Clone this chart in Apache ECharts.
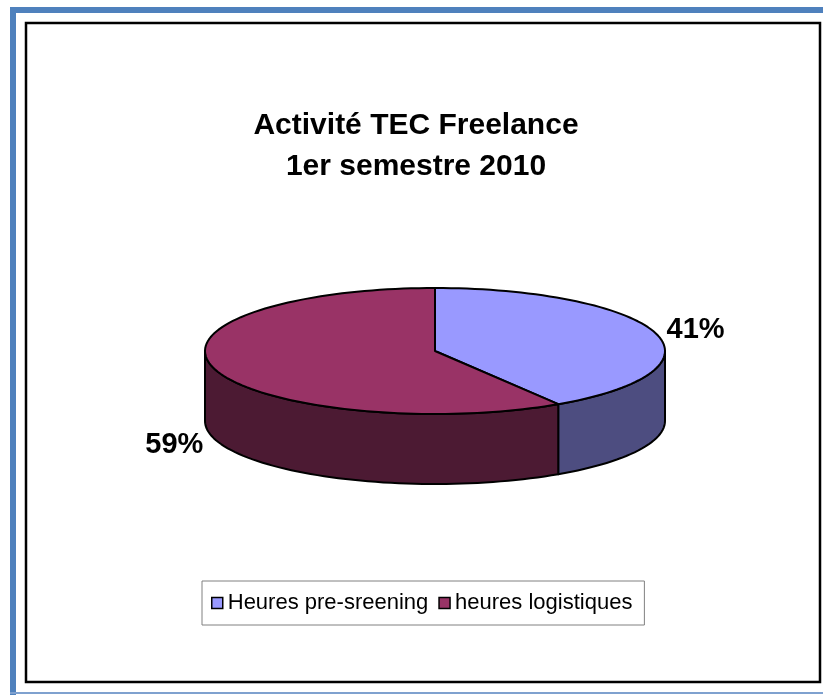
<!DOCTYPE html>
<html>
<head>
<meta charset="utf-8">
<script src="https://cdn.jsdelivr.net/npm/echarts@6/dist/echarts.min.js"></script>
<style>
  html, body { margin: 0; padding: 0; background: #fff; }
  #chart { width: 823px; height: 695px; }
</style>
</head>
<body>
<div id="chart"></div>
<script>
// données du graphique
const categories = ['Heures pre-sreening', 'heures logistiques'];
const values = [41, 59];

// couleurs (dessus / côté)
const topColors = ['#9999ff', '#993366'];
const sideColors = ['#4d4d80', '#4c1a33'];

// géométrie du camembert 3D
const cx = 435, cy = 351, rx = 230, ry = 63, depth = 70;
const fontFamily = '"Liberation Sans", Arial, sans-serif';

const total = values.reduce((a, b) => a + b, 0);
let starts = [];
let acc = 0;
values.forEach(v => { starts.push(acc); acc += v; });

function pt(deg, dy) {
  const r = deg * Math.PI / 180;
  return [cx + rx * Math.sin(r), cy - ry * Math.cos(r) + (dy || 0)];
}

function arc(a1, a2, dy) {
  const n = Math.max(2, Math.ceil(Math.abs(a2 - a1) / 2));
  let pts = [];
  for (let i = 0; i <= n; i++) {
    pts.push(pt(a1 + (a2 - a1) * i / n, dy));
  }
  return pts;
}

function renderSlice(idx) {
  return function (params, api) {
    const v = api.value(0), start = api.value(1), tot = api.value(2);
    const a1 = start / tot * 360;
    const a2 = (start + v) / tot * 360;
    let children = [];

    // côté visible (partie avant, entre 90° et 270°)
    const lo = Math.max(a1, 90), hi = Math.min(a2, 270);
    if (lo < hi) {
      const side = arc(lo, hi, 0).concat(arc(hi, lo, depth));
      children.push({
        type: 'polygon',
        shape: { points: side },
        style: { fill: sideColors[idx], stroke: '#000', lineWidth: 2, lineJoin: 'round' }
      });
    }

    // dessus
    const top = [[cx, cy]].concat(arc(a1, a2, 0));
    children.push({
      type: 'polygon',
      shape: { points: top },
      style: { fill: topColors[idx], stroke: '#000', lineWidth: 2, lineJoin: 'round' }
    });

    // étiquette en pourcentage
    const mid = (a1 + a2) / 2;
    const r = mid * Math.PI / 180;
    const lx = cx + rx * 1.18 * Math.sin(r);
    let ly = cy - ry * 1.18 * Math.cos(r);
    if (Math.cos(r) < 0) ly += depth + 3;
    children.push({
      type: 'text',
      style: {
        text: Math.round(v / tot * 100) + '%',
        x: lx, y: ly,
        align: 'center', verticalAlign: 'middle',
        font: 'bold 29px ' + fontFamily,
        fill: '#000'
      }
    });

    return { type: 'group', children: children };
  };
}

const series = categories.map((name, i) => ({
  type: 'custom',
  name: name,
  coordinateSystem: 'none',
  itemStyle: { color: topColors[i] },
  data: [[values[i], starts[i], total]],
  renderItem: renderSlice(i),
  silent: true
}));

const myChart = echarts.init(document.getElementById('chart'));
myChart.setOption({
  animation: false,
  backgroundColor: '#fff',
  title: {
    text: 'Activité TEC Freelance\n1er semestre 2010',
    left: 416,
    top: 105,
    padding: 0,
    textAlign: 'center',
    textStyle: {
      fontFamily: fontFamily,
      fontSize: 30,
      fontWeight: 'bold',
      color: '#000',
      lineHeight: 41
    }
  },
  legend: {
    data: categories,
    left: 202,
    top: 581,
    orient: 'horizontal',
    backgroundColor: '#fff',
    borderColor: '#808080',
    borderWidth: 1,
    borderRadius: 0,
    padding: [11, 12, 11, 9],
    itemGap: 10,
    itemWidth: 11,
    itemHeight: 11,
    icon: 'rect',
    itemStyle: { borderColor: '#000', borderWidth: 1.5 },
    textStyle: { fontFamily: fontFamily, fontSize: 22, color: '#000' }
  },
  graphic: [
    // cadre bleu
    { type: 'rect', shape: { x: 10, y: 7, width: 820, height: 6 }, style: { fill: '#4f81bd' } },
    { type: 'rect', shape: { x: 10, y: 7, width: 6, height: 690 }, style: { fill: '#4f81bd' } },
    { type: 'rect', shape: { x: 10, y: 692, width: 820, height: 2 }, style: { fill: '#7fa1cf' } },
    // cadre noir
    { type: 'rect', shape: { x: 26, y: 23, width: 794, height: 659 }, style: { fill: 'none', stroke: '#000', lineWidth: 2.5 } }
  ],
  series: series
});
</script>
</body>
</html>
